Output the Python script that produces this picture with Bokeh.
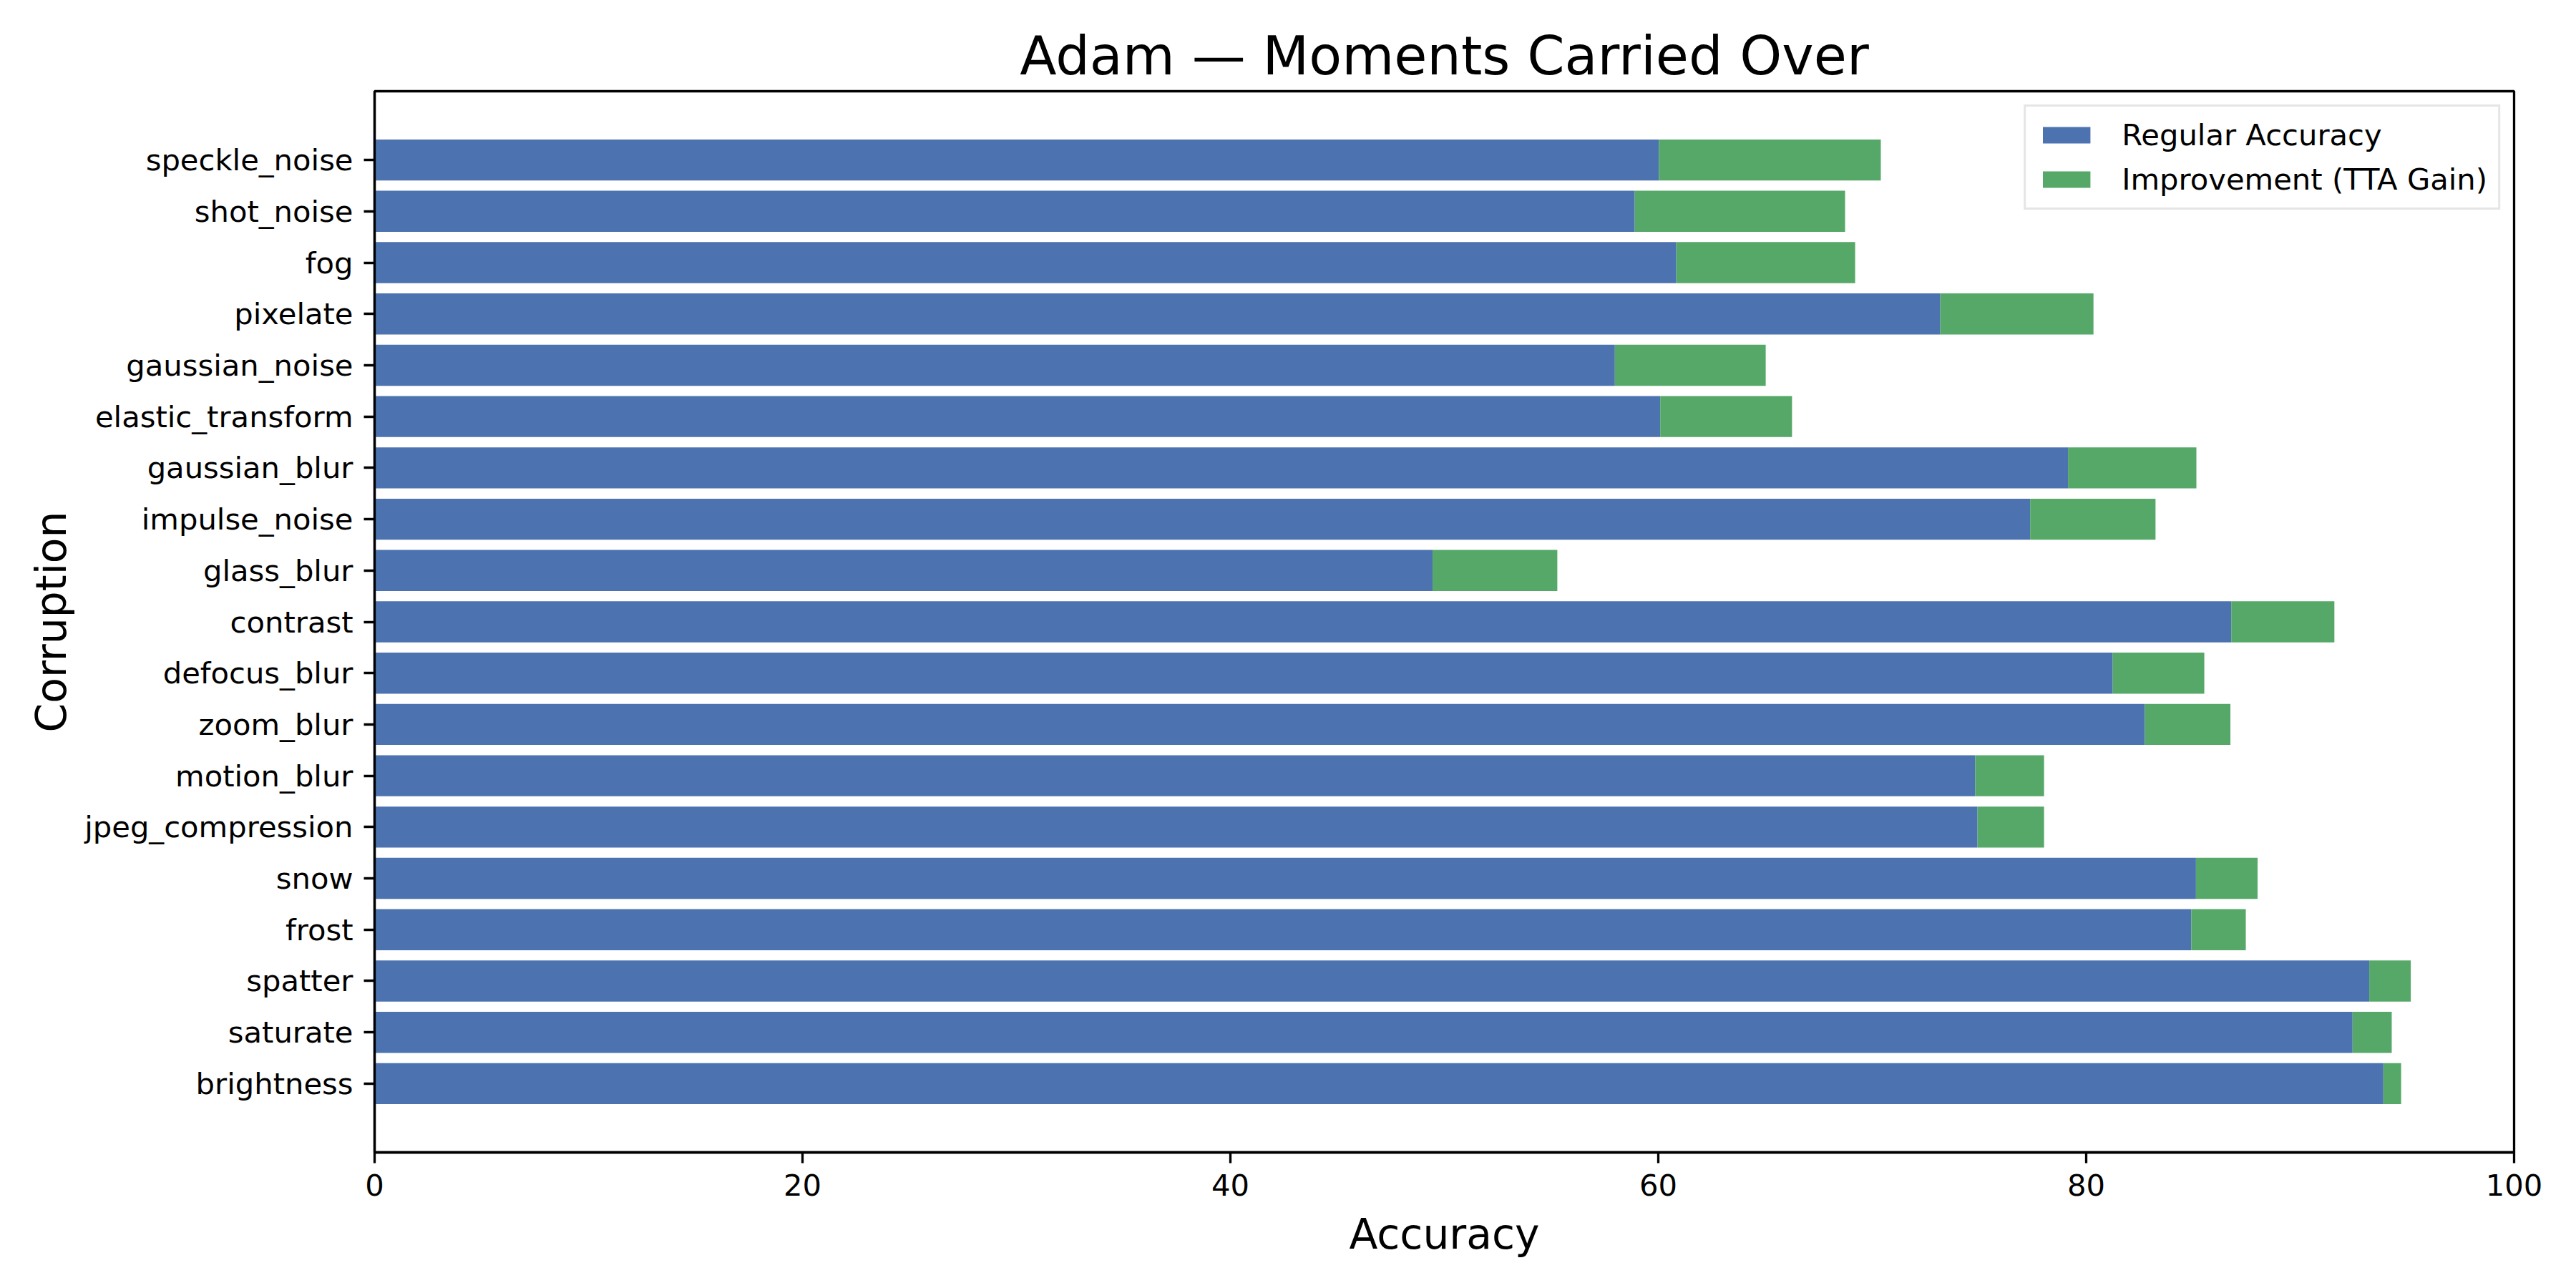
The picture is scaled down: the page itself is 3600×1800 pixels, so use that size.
from bokeh.plotting import figure
from bokeh.models import ColumnDataSource, FactorRange, Range1d, FixedTicker, Legend, LegendItem
from bokeh.embed import file_html
from bokeh.resources import INLINE

# bottom to top
corruptions = ["brightness", "saturate", "spatter", "frost", "snow",
               "jpeg_compression", "motion_blur", "zoom_blur", "defocus_blur",
               "contrast", "glass_blur", "impulse_noise", "gaussian_blur",
               "elastic_transform", "gaussian_noise", "pixelate", "fog",
               "shot_noise", "speckle_noise"]
regular = [93.89, 92.45, 93.23, 84.91, 85.13,
           74.92, 74.81, 82.74, 81.24,
           86.78, 49.45, 77.38, 79.15,
           60.09, 57.97, 73.18, 60.84,
           58.90, 60.03]
improvement = [0.83, 1.83, 1.94, 2.55, 2.88,
               3.11, 3.22, 4.00, 4.28,
               4.82, 5.83, 5.86, 6.00,
               6.16, 7.05, 7.16, 8.36,
               9.83, 10.37]
x_ticks = [0, 20, 40, 60, 80, 100]

title_text = "Adam \u2014 Moments Carried Over"
x_label = "Accuracy"
y_label = "Corruption"
series_labels = ["Regular Accuracy", "Improvement (TTA Gain)"]
colors = ["#4C72B0", "#55A868"]

total = [r + i for r, i in zip(regular, improvement)]
src = ColumnDataSource(dict(cat=corruptions, reg=regular, tot=total,
                            zero=[0] * len(regular)))

FONT = "DejaVu Sans"

p = figure(width=3584, height=1784,
           y_range=FactorRange(factors=corruptions, range_padding=0.84,
                               range_padding_units="absolute"),
           x_range=Range1d(0, 100),
           output_backend="svg", toolbar_location=None,
           min_border_left=523, min_border_right=71,
           min_border_top=127, min_border_bottom=174)

r1 = p.hbar(y="cat", left="zero", right="reg", height=0.8, source=src,
            fill_color=colors[0], line_color=None)
r2 = p.hbar(y="cat", left="reg", right="tot", height=0.8, source=src,
            fill_color=colors[1], line_color=None)

p.title.text = title_text
p.title.align = "center"
p.title.text_font = FONT
p.title.text_font_size = "75px"
p.title.text_font_style = "normal"
p.title.text_color = "black"
p.title.standoff = 12

p.xgrid.visible = False
p.ygrid.visible = False
p.outline_line_color = "black"
p.outline_line_width = 3.3
p.background_fill_color = "white"
p.border_fill_color = "white"

p.xaxis.ticker = FixedTicker(ticks=x_ticks)
for ax in (p.xaxis[0], p.yaxis[0]):
    ax.axis_line_width = 3.3
    ax.axis_line_color = "black"
    ax.major_tick_line_width = 3.3
    ax.major_tick_line_color = "black"
    ax.major_tick_out = 15
    ax.major_tick_in = 0
    ax.minor_tick_line_color = None
    ax.major_label_text_font = FONT
    ax.major_label_text_font_size = "41.7px"
    ax.major_label_text_color = "black"
    ax.major_label_standoff = 15
    ax.axis_label_text_font = FONT
    ax.axis_label_text_font_size = "58.3px"
    ax.axis_label_text_font_style = "normal"
    ax.axis_label_text_color = "black"
    ax.axis_label_standoff = 17
p.yaxis.axis_label_standoff = 9

p.xaxis.axis_label = x_label
p.yaxis.axis_label = y_label

legend = Legend(items=[LegendItem(label=series_labels[0], renderers=[r1]),
                       LegendItem(label=series_labels[1], renderers=[r2])],
                location="top_right", margin=19, padding=15,
                glyph_width=83, glyph_height=29, label_standoff=36,
                label_height=42, spacing=13,
                label_text_font=FONT, label_text_font_size="41.7px",
                label_text_color="black",
                border_line_color="#cccccc", border_line_width=3.3,
                background_fill_color="white", background_fill_alpha=0.8)
p.add_layout(legend)

open("out.html", "w").write(file_html(p, INLINE))
